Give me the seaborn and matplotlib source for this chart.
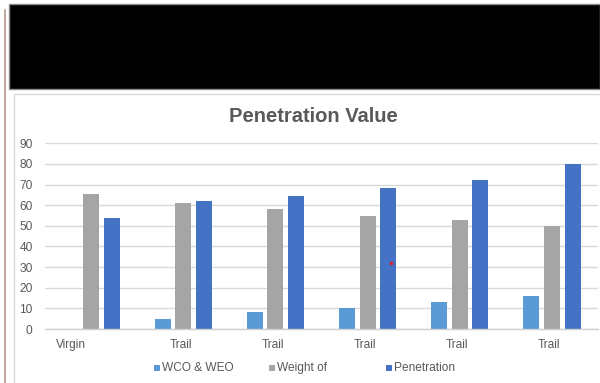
import matplotlib
matplotlib.use("Agg")
import matplotlib.pyplot as plt
import matplotlib.transforms as mtransforms
from matplotlib.patches import Rectangle
from matplotlib.lines import Line2D
import seaborn as sns
import pandas as pd

# ---- data ----
categories = ["Virgin", "Trail", "Trail", "Trail", "Trail", "Trail"]
series_names = ["WCO & WEO", "Weight of", "Penetration"]
wco_weo = [0, 5, 8, 10, 13, 16]
weight_of = [65.5, 61, 58, 55, 53, 50]
penetration = [54, 62, 64.5, 68.5, 72, 80]
y_ticks = [0, 10, 20, 30, 40, 50, 60, 70, 80, 90]
colors = ["#5B9BD5", "#A5A5A5", "#4472C4"]

rows = []
for name, vals in zip(series_names, [wco_weo, weight_of, penetration]):
    for i, v in enumerate(vals):
        rows.append({"pos": i, "value": v, "series": name})
df = pd.DataFrame(rows)

sns.set_theme(style="white")
plt.rcParams["font.family"] = ["Liberation Sans", "DejaVu Sans"]

W, H = 600, 383
fig = plt.figure(figsize=(W / 100, H / 100), dpi=100)


def fx(x):
    return x / W


def fy(y):
    return 1 - y / H


# page decorations around the chart (kept behind the axes)
fig.add_artist(Line2D([fx(5), fx(5)], [fy(10), fy(383)], color="#bda69e", lw=1.4,
                      zorder=-5))
fig.add_artist(Rectangle((fx(9), fy(89)), fx(600) - fx(9), fy(4) - fy(89),
                         facecolor="black", edgecolor="#8a8a8a", lw=1.0, zorder=-5))
fig.add_artist(Rectangle((fx(14), fy(390)), fx(620) - fx(14), fy(94) - fy(390),
                         facecolor="white", edgecolor="#d9d9d9", lw=1.0, zorder=-5))

# plot area
ax = fig.add_axes([fx(45), fy(329), fx(598) - fx(45), fy(143.3) - fy(329)])
ax.set_facecolor("none")
sns.barplot(data=df, x="pos", y="value", hue="series", hue_order=series_names,
            order=list(range(len(categories))), palette=colors, saturation=1,
            width=0.673, gap=0.23, linewidth=0, legend=False, ax=ax)

ax.set_ylim(0, 90)
ax.set_yticks(y_ticks)
ax.set_xticks(range(len(categories)))
ax.set_xticklabels(categories)
ax.set_xlabel("")
ax.set_ylabel("")
ax.yaxis.grid(True, color="#d9d9d9", lw=1.0)
ax.set_axisbelow(True)
for s in ["top", "right", "left"]:
    ax.spines[s].set_visible(False)
ax.spines["bottom"].set_color("#d0d0d0")
ax.spines["bottom"].set_linewidth(1.0)
ax.tick_params(axis="both", length=0, labelsize=8.6, labelcolor="#595959")
ax.tick_params(axis="y", pad=9)
ax.tick_params(axis="x", pad=7)

# nudge category labels slightly left (the first one more so)
label_shift_px = [-20, -2.5, -2.5, -2.5, -2.5, -2.5]
for lbl, dx in zip(ax.get_xticklabels(), label_shift_px):
    off = mtransforms.ScaledTranslation(dx / 100, 0, fig.dpi_scale_trans)
    lbl.set_transform(lbl.get_transform() + off)

# title
fig.text(fx(313.5), fy(122), "Penetration Value", ha="center", va="baseline",
         fontsize=14.5, fontweight="bold", color="#595959")

# legend
legend_x = [154, 269, 386]
for x0, name, c in zip(legend_x, series_names, colors):
    fig.add_artist(Rectangle((fx(x0), fy(370.5)), fx(5.5), fy(365) - fy(370.5),
                             facecolor=c, edgecolor="none"))
    fig.text(fx(x0 + 8), fy(368), name, ha="left", va="center",
             fontsize=8.6, color="#595959")

# small red speck on the chart
fig.add_artist(Line2D([fx(391)], [fy(263)], marker="o", markersize=2.6,
                      color="#e02020", markeredgewidth=0, zorder=10))

fig.savefig("out.png", dpi=100)
